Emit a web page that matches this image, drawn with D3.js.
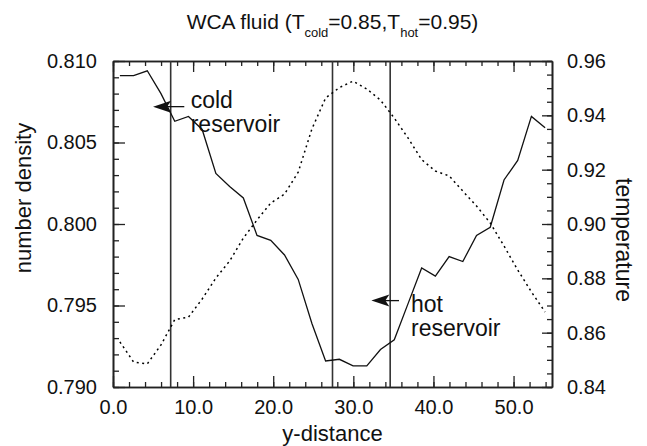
<!DOCTYPE html>
<html>
<head>
<meta charset="utf-8">
<script src="https://cdnjs.cloudflare.com/ajax/libs/d3/7.8.5/d3.min.js"></script>
<style>
  body { margin: 0; background: #fff; }
  svg text { font-family: "Liberation Sans", Arial, sans-serif; fill: #111; }
</style>
</head>
<body>
<script>
// bin centres along y (slab length ~54.8, 32 bins)
const yDist = [0.86, 2.57, 4.28, 5.99, 7.71, 9.42, 11.13, 12.84, 14.56, 16.27, 17.98, 19.69,
  21.41, 23.12, 24.83, 26.54, 28.26, 29.97, 31.68, 33.39, 35.11, 36.82, 38.53, 40.24,
  41.96, 43.67, 45.38, 47.09, 48.81, 50.52, 52.23, 53.94]

const density = [0.8091, 0.8091, 0.8094, 0.8080, 0.8063, 0.8066, 0.8058, 0.8031, 0.8023, 0.8016,
  0.7993, 0.7990, 0.7981, 0.7966, 0.7939, 0.7916, 0.7917, 0.7913, 0.7913, 0.7923, 0.7929,
  0.7951, 0.7973, 0.7968, 0.7980, 0.7977, 0.7993, 0.7998, 0.8027, 0.8039, 0.8066, 0.8059]

const temperature = [0.8566, 0.8492, 0.8485, 0.8555, 0.8648, 0.8657, 0.8724, 0.8801, 0.8864, 0.8948,
  0.9015, 0.9077, 0.9110, 0.9191, 0.9350, 0.9464, 0.9502, 0.9526, 0.9497, 0.9456, 0.9390,
  0.9317, 0.9237, 0.9195, 0.9177, 0.9121, 0.9066, 0.9004, 0.8919, 0.8831, 0.8750, 0.8676]

// reservoir boundaries
const walls = [7.2, 27.4, 34.6]

const xTicks = [0, 10, 20, 30, 40, 50]
const xTickLabels = ["0.0", "10.0", "20.0", "30.0", "40.0", "50.0"]
const yLeftTicks = [0.790, 0.795, 0.800, 0.805, 0.810]
const yLeftLabels = ["0.790", "0.795", "0.800", "0.805", "0.810"]
const yRightTicks = [0.84, 0.86, 0.88, 0.90, 0.92, 0.94, 0.96]
const yRightLabels = ["0.84", "0.86", "0.88", "0.90", "0.92", "0.94", "0.96"]

// annotations: arrow tip, arrow tail (data units, left axis), label lines
const notes = [
  { tip: [5.0, 0.8072], tail: [8.9, 0.8072], at: [9.7, 0.8071], lines: ["cold", "reservoir"] },
  { tip: [32.25, 0.7953], tail: [35.7, 0.7953], at: [37.2, 0.7946], lines: ["hot", "reservoir"] }
]

var svgWidth = 647
var svgHeight = 446
const margin = { top: 61, right: 95, bottom: 59, left: 113 }
const gWidth = svgWidth - margin.left - margin.right
const gHeight = svgHeight - margin.top - margin.bottom

var svg = d3.select("body").append("svg")
  .attr("width", svgWidth)
  .attr("height", svgHeight)

var g = svg.append("g")
  .attr("transform", "translate(" + margin.left + "," + margin.top + ")")

var xScale = d3.scaleLinear().domain([0, 54.8]).range([0, gWidth])
var yLeft = d3.scaleLinear().domain([0.790, 0.810]).range([gHeight, 0])
var yRight = d3.scaleLinear().domain([0.84, 0.96]).range([gHeight, 0])

var xMinor = d3.range(0, 55, 2)
var yLeftMinor = d3.range(0, 21).map(function(i) { return 0.790 + i * 0.001 })
var yRightMinor = d3.range(0, 25).map(function(i) { return 0.84 + i * 0.005 })

function styleAxis(sel) {
  sel.selectAll(".domain").attr("stroke", "#222").attr("stroke-width", 1.6)
  sel.selectAll(".tick line").attr("stroke", "#222").attr("stroke-width", 1.3)
  sel.selectAll("text").style("font-size", "20px").attr("fill", "#111")
}

// minor ticks
g.append("g").attr("transform", "translate(0," + gHeight + ")")
  .call(d3.axisBottom(xScale).tickValues(xMinor).tickSize(-5).tickSizeOuter(0).tickFormat(""))
  .call(styleAxis)
g.append("g")
  .call(d3.axisTop(xScale).tickValues(xMinor).tickSize(-5).tickSizeOuter(0).tickFormat(""))
  .call(styleAxis)
g.append("g")
  .call(d3.axisLeft(yLeft).tickValues(yLeftMinor).tickSize(-6).tickSizeOuter(0).tickFormat(""))
  .call(styleAxis)
g.append("g").attr("transform", "translate(" + gWidth + ",0)")
  .call(d3.axisRight(yRight).tickValues(yRightMinor).tickSize(-5).tickSizeOuter(0).tickFormat(""))
  .call(styleAxis)

// major ticks + labels
g.append("g").attr("transform", "translate(0," + gHeight + ")")
  .call(d3.axisBottom(xScale).tickValues(xTicks).tickSize(-11).tickSizeOuter(0).tickPadding(13)
    .tickFormat(function(d, i) { return xTickLabels[i] }))
  .call(styleAxis)
g.append("g")
  .call(d3.axisTop(xScale).tickValues(xTicks).tickSize(-11).tickSizeOuter(0).tickFormat(""))
  .call(styleAxis)
g.append("g")
  .call(d3.axisLeft(yLeft).tickValues(yLeftTicks).tickSize(-12).tickSizeOuter(0).tickPadding(16)
    .tickFormat(function(d, i) { return yLeftLabels[i] }))
  .call(styleAxis)
g.append("g").attr("transform", "translate(" + gWidth + ",0)")
  .call(d3.axisRight(yRight).tickValues(yRightTicks).tickSize(-10).tickSizeOuter(0).tickPadding(15)
    .tickFormat(function(d, i) { return yRightLabels[i] }))
  .call(styleAxis)

// reservoir walls
g.selectAll(".wall").data(walls).enter().append("line")
  .attr("class", "wall")
  .attr("x1", function(d) { return xScale(d) })
  .attr("x2", function(d) { return xScale(d) })
  .attr("y1", 0)
  .attr("y2", gHeight)
  .attr("stroke", "#333")
  .attr("stroke-width", 1.6)

var pts = yDist.map(function(x, i) { return { x: x, n: density[i], t: temperature[i] } })

g.append("path").datum(pts)
  .attr("fill", "none")
  .attr("stroke", "#111")
  .attr("stroke-width", 1.3)
  .attr("d", d3.line().x(function(d) { return xScale(d.x) }).y(function(d) { return yLeft(d.n) }))

g.append("path").datum(pts)
  .attr("fill", "none")
  .attr("stroke", "#000")
  .attr("stroke-width", 1.5)
  .attr("stroke-dasharray", "2,3.5")
  .attr("d", d3.line().x(function(d) { return xScale(d.x) }).y(function(d) { return yRight(d.t) }))

// arrows and labels
notes.forEach(function(nt) {
  var tx = xScale(nt.tip[0]), ty = yLeft(nt.tip[1])
  var ex = xScale(nt.tail[0])
  g.append("line")
    .attr("x1", tx + 4).attr("x2", ex)
    .attr("y1", ty).attr("y2", ty)
    .attr("stroke", "#111").attr("stroke-width", 1.3)
  g.append("path")
    .attr("d", "M" + tx + "," + ty + " L" + (tx + 18) + "," + (ty - 6) + " L" + (tx + 14) + "," + ty +
      " L" + (tx + 18) + "," + (ty + 6) + " Z")
    .attr("fill", "#111")
  var lbl = g.append("text")
    .attr("x", xScale(nt.at[0]))
    .attr("y", yLeft(nt.at[1]))
    .style("font-size", "23px")
  nt.lines.forEach(function(s, i) {
    lbl.append("tspan").attr("x", xScale(nt.at[0])).attr("dy", i == 0 ? 0 : 23.5).text(s)
  })
})

// title with subscripts
var title = svg.append("text")
  .attr("x", margin.left + gWidth / 2)
  .attr("y", 29)
  .attr("text-anchor", "middle")
  .style("font-size", "21px")
title.append("tspan").text("WCA fluid (T")
title.append("tspan").attr("dy", 8).style("font-size", "13px").text("cold")
title.append("tspan").attr("dy", -8).text("=0.85,T")
title.append("tspan").attr("dy", 8).style("font-size", "13px").text("hot")
title.append("tspan").attr("dy", -8).text("=0.95)")

// axis titles
svg.append("text")
  .attr("x", margin.left + gWidth / 2)
  .attr("y", 441)
  .attr("text-anchor", "middle")
  .style("font-size", "22px")
  .text("y-distance")

svg.append("text")
  .attr("transform", "translate(31,198) rotate(-90)")
  .attr("text-anchor", "middle")
  .style("font-size", "22px")
  .text("number density")

svg.append("text")
  .attr("transform", "translate(616,240) rotate(90)")
  .attr("text-anchor", "middle")
  .style("font-size", "23px")
  .text("temperature")
</script>
</body>
</html>
